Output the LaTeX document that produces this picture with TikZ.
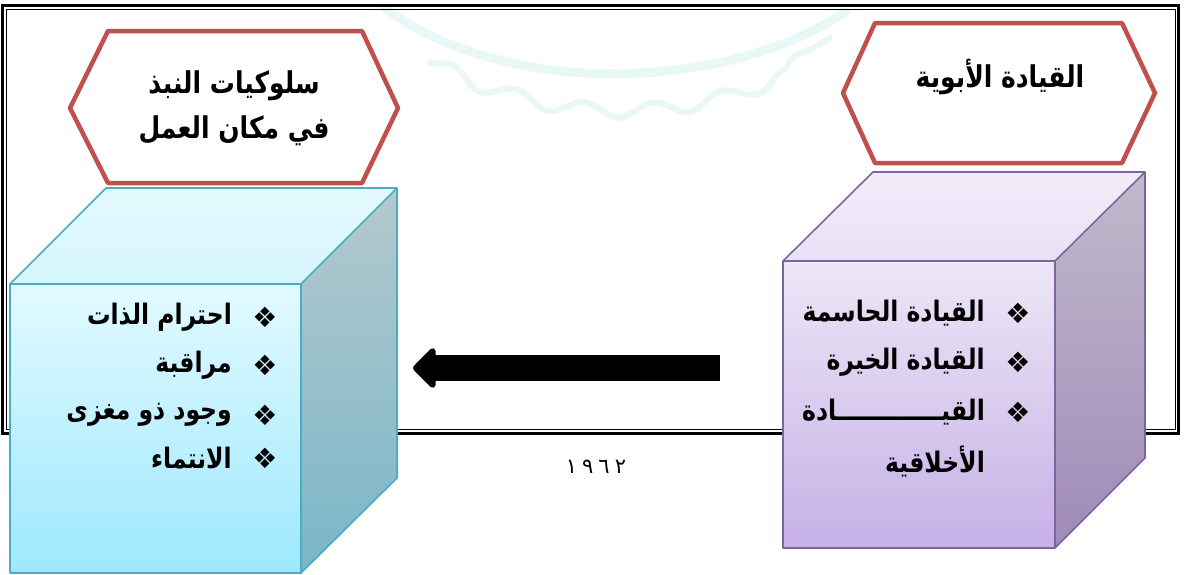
\documentclass[tikz,border=0pt]{standalone}
\usepackage{graphicx}
\usepackage{fontspec}
\newfontfamily\arabicfont[Script=Arabic]{DejaVu Sans}
\newfontfamily\symfont{DejaVu Sans}
\TeXXeTstate=1
\newcommand{\tallar}[1]{\scalebox{1}[1.2]{\beginR #1\endR}}
\usetikzlibrary{arrows.meta,decorations.pathmorphing}
\definecolor{hexred}{RGB}{192,80,77}
\definecolor{cyanstroke}{RGB}{75,172,198}
\definecolor{cyanfronttop}{RGB}{226,250,255}
\definecolor{cyanfrontbot}{RGB}{158,232,255}
\definecolor{cyantop}{RGB}{228,250,255}
\definecolor{cyantopb}{RGB}{214,245,252}
\definecolor{cyansidetop}{RGB}{180,201,205}
\definecolor{cyansidebot}{RGB}{122,182,200}
\definecolor{purstroke}{RGB}{128,100,162}
\definecolor{purfronttop}{RGB}{237,231,247}
\definecolor{purfrontbot}{RGB}{198,176,230}
\definecolor{purtop}{RGB}{242,237,250}
\definecolor{purtopb}{RGB}{232,224,245}
\definecolor{pursidetop}{RGB}{192,186,202}
\definecolor{pursidebot}{RGB}{160,138,186}
\definecolor{wmark}{RGB}{234,247,247}
\begin{document}
\begin{tikzpicture}[x=1pt,y=-1pt,
  hexbox/.style={draw=hexred,line width=4.5pt,fill=white,line join=round},
  cyanedge/.style={draw=cyanstroke,line width=1.6pt,line join=round},
  puredge/.style={draw=purstroke,line width=1.6pt,line join=round},
  hextext/.style={font=\arabicfont\bfseries\fontsize{25}{45}\selectfont,align=center,inner sep=0pt},
  itemtext/.style={font=\arabicfont\bfseries\fontsize{23.5}{24}\selectfont,anchor=east,inner sep=0pt},
  bullet/.style={font=\symfont\fontsize{28}{28}\selectfont,inner sep=0pt},
  bigarrow/.style={line width=26pt,-{Triangle[length=24pt,width=47pt,round]}},
  wm/.style={draw=wmark,line width=9pt,line cap=round}
]
\useasboundingbox (0,0) rectangle (1184,574);
% watermark
\draw[wm] (385,8) .. controls (500,95) and (720,95) .. (845,12);
\draw[wm,line width=6pt,decorate,decoration={snake,amplitude=7pt,segment length=70pt}] (430,62) .. controls (560,125) and (700,115) .. (830,38);
% frame
\draw[line width=2.8pt] (2.5,5.5) rectangle (1178.5,433.5);
\draw[line width=1pt] (6.5,9) rectangle (1175,429);
% hexagons
\draw[hexbox] (70,108) -- (108,31) -- (362,31) -- (398,108) -- (362,183) -- (108,183) -- cycle;
\draw[hexbox] (843,93) -- (875,23) -- (1122,23) -- (1155,93) -- (1122,163) -- (875,163) -- cycle;
\node[hextext] (hexL) at (234,108) {\tallar{سلوكيات النبذ}\\\tallar{في مكان العمل}};
\node[hextext] (hexR) at (1000,77) {\tallar{القيادة الأبوية}};
% left cube
\fill[top color=cyantop,bottom color=cyantopb] (10,284) -- (106,188) -- (397,188) -- (301,284) -- cycle;
\fill[top color=cyansidetop,bottom color=cyansidebot] (301,284) -- (397,188) -- (397,478) -- (301,573) -- cycle;
\fill[top color=cyanfronttop,bottom color=cyanfrontbot] (10,284) rectangle (301,573);
\draw[cyanedge] (10,573) -- (10,284) -- (106,188) -- (397,188) -- (397,478) -- (301,573) -- (10,573);
\draw[cyanedge] (10,284) -- (301,284) -- (397,188);
\draw[cyanedge] (301,284) -- (301,573);
% right cube
\fill[top color=purtop,bottom color=purtopb] (783,261) -- (873,172) -- (1145,172) -- (1055,261) -- cycle;
\fill[top color=pursidetop,bottom color=pursidebot] (1055,261) -- (1145,172) -- (1145,458) -- (1055,548) -- cycle;
\fill[top color=purfronttop,bottom color=purfrontbot] (783,261) rectangle (1055,548);
\draw[puredge] (783,548) -- (783,261) -- (873,172) -- (1145,172) -- (1145,458) -- (1055,548) -- cycle;
\draw[puredge] (783,261) -- (1055,261) -- (1145,172);
\draw[puredge] (1055,261) -- (1055,548);
% left items
\node[bullet] (bl1) at (265,317) {❖};
\node[bullet] (bl2) at (265,365) {❖};
\node[bullet] (bl3) at (265,415) {❖};
\node[bullet] (bl4) at (265,458) {❖};
\node[itemtext] (l1) at (232,317) {\tallar{احترام الذات}};
\node[itemtext] (l2) at (232,365) {\tallar{مراقبة}};
\node[itemtext] (l3) at (232,415) {\tallar{وجود ذو مغزى}};
\node[itemtext] (l4) at (232,458) {\tallar{الانتماء}};
% right items
\node[bullet] (br1) at (1018,313) {❖};
\node[bullet] (br2) at (1018,362) {❖};
\node[bullet] (br3) at (1018,412) {❖};
\node[itemtext] (r1) at (985,313) {\tallar{القيادة الحاسمة}};
\node[itemtext] (r2) at (985,362) {\tallar{القيادة الخيرة}};
\node[itemtext] (r3) at (985,412) {\tallar{القيـــــــــــــادة}};
\node[itemtext] (r4) at (985,462) {\tallar{الأخلاقية}};
% arrow
\coordinate (astart) at (720,368);
\coordinate (aend) at (413,368);
\draw[bigarrow] (astart) -- (aend);
% page number
\node[font=\arabicfont\fontsize{21}{21}\selectfont,inner sep=0pt] (num) at (596,467) {١\kern5pt٩\kern5pt٦\kern5pt٢};
\end{tikzpicture}
\end{document}
